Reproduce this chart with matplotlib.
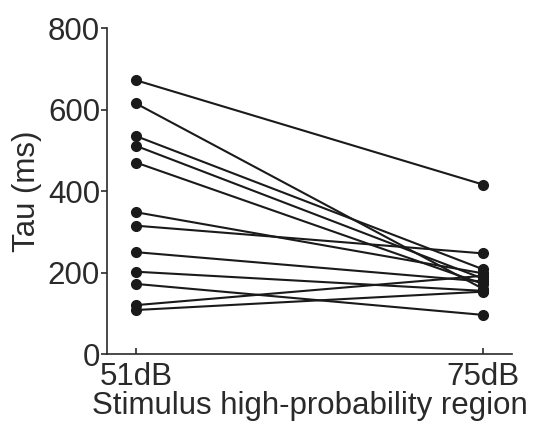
import matplotlib
matplotlib.use("Agg")
import matplotlib.pyplot as plt

plt.rcParams['font.family'] = ['Liberation Sans', 'DejaVu Sans']

# tau per unit, low-level region vs high-level region
conditions = ['51dB', '75dB']
tau_51 = [672, 615, 535, 511, 470, 348, 315, 250, 202, 172, 120, 108]
tau_75 = [416, 160, 208, 185, 172, 198, 247, 178, 155, 96, 192, 153]
yticks = [0, 200, 400, 600, 800]

text_col = '#2a2a2a'
fs = 22.5

fig = plt.figure(figsize=(5.34, 4.26), dpi=100)
ax = fig.add_axes([0.2004, 0.169, 0.7584, 0.765])

for a, b in zip(tau_51, tau_75):
    ax.plot([0, 1], [a, b], color='#1a1a1a', lw=1.5, marker='o', ms=7,
            markerfacecolor='#1a1a1a', markeredgecolor='#1a1a1a')

ax.set_xlim(-0.0836, 1.0836)
ax.set_ylim(0, 800)
ax.set_xticks([0, 1])
ax.set_xticklabels(conditions)
ax.set_yticks(yticks)

for side in ['top', 'right']:
    ax.spines[side].set_visible(False)
for side in ['left', 'bottom']:
    ax.spines[side].set_color(text_col)
    ax.spines[side].set_linewidth(1.2)

ax.tick_params(axis='y', direction='out', length=4, width=1.2, pad=1,
               labelsize=fs, colors=text_col)
ax.tick_params(axis='x', direction='in', length=4, width=1.2, pad=6,
               labelsize=fs, colors=text_col)

ax.set_ylabel('Tau (ms)', fontsize=fs, color=text_col, labelpad=4)
ax.set_xlabel('Stimulus high-probability region', fontsize=fs,
              color=text_col, labelpad=-1)

fig.savefig('out.png', dpi=100)
